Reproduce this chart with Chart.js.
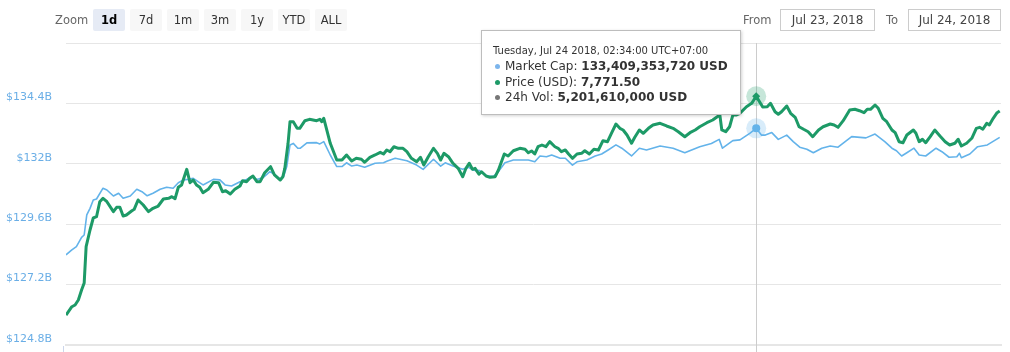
<!DOCTYPE html>
<html>
<head>
<meta charset="utf-8">
<script src="https://cdn.jsdelivr.net/npm/chart.js@4/dist/chart.umd.min.js"></script>
<style>
  html, body { margin:0; padding:0; background:#fff; overflow:hidden; }
  #wrap { position:relative; width:1010px; height:352px; font-family:"DejaVu Sans", sans-serif; }
  #c { position:absolute; left:0; top:0; }
  .lbl { position:absolute; font-size:11.5px; color:#666; line-height:16px; white-space:nowrap; }
  .btn { position:absolute; top:9px; width:32px; height:22px; line-height:22px; text-align:center; font-size:11.5px; color:#333; background:#f7f7f7; border-radius:2px; }
  .btn.sel { background:#e6ebf5; font-weight:bold; color:#000; }
  .date { position:absolute; top:9px; height:22px; box-sizing:border-box; border:1px solid #ccc; background:#fff; font-size:12px; color:#444; text-align:center; line-height:20px; }
  #tip { position:absolute; left:481px; top:30px; width:260px; height:85px; box-sizing:border-box; background:rgba(255,255,255,0.93); border:1px solid #bdbdbd; box-shadow:1px 1px 3px rgba(0,0,0,0.18); color:#333; }
  #tip .row { position:absolute; left:0; white-space:nowrap; line-height:16px; }
  #tip .dot { position:absolute; width:5px; height:5px; border-radius:50%; top:6px; left:13px; }
</style>
</head>
<body>
<div id="wrap">
  <canvas id="c" width="1010" height="352"></canvas>
  <div id="ui"></div>
  <div id="tip"></div>
</div>
<script>
// ---------- data ----------
// x = minutes since start of the 1-day window, y = value
const pricePoints = [
[0,7481.7],[9,7492.7],[14,7495.0],[19,7501.6],[24,7514.8],[28,7524.1],[31,7572.2],[37,7594.3],[42,7610.2],[47,7611.9],
[52,7631.8],[57,7636.3],[63,7631.8],[73,7618.6],[78,7624.4],[83,7624.4],[88,7612.9],[93,7614.2],[101,7619.5],[105,7621.7],
[111,7634.1],[119,7627.4],[127,7618.6],[134,7623.1],[142,7626.1],[150,7635.4],[158,7636.3],[163,7638.4],[168,7635.8],[173,7650.9],
[178,7653.9],[186,7674.7],[191,7657.0],[196,7660.5],[201,7653.9],[206,7650.9],[211,7643.7],[219,7648.2],[227,7657.5],[235,7657.0],
[241,7645.0],[246,7646.4],[253,7642.0],[260,7648.2],[268,7652.6],[272,7659.6],[278,7658.3],[283,7662.8],[288,7665.8],[294,7658.3],
[299,7658.3],[306,7670.2],[315,7678.2],[321,7667.2],[330,7660.5],[334,7664.9],[337,7676.0],[342,7709.2],[345,7737.8],[350,7737.8],
[356,7729.0],[360,7729.0],[368,7739.1],[375,7740.9],[386,7739.1],[391,7740.9],[394,7737.8],[397,7742.3],[407,7709.2],[417,7687.0],
[425,7687.0],[432,7693.7],[440,7685.7],[447,7689.3],[455,7688.0],[460,7684.0],[468,7690.6],[476,7693.7],[484,7697.2],[489,7695.0],
[494,7700.3],[499,7698.0],[505,7704.6],[512,7702.5],[519,7702.5],[525,7698.0],[532,7689.3],[540,7684.8],[546,7690.6],[551,7680.4],
[558,7691.4],[566,7702.5],[572,7695.9],[577,7687.0],[582,7695.9],[589,7691.4],[596,7682.7],[604,7676.0],[611,7664.9],[616,7676.0],
[621,7682.7],[626,7674.7],[630,7676.0],[636,7668.1],[640,7671.5],[647,7665.8],[653,7664.1],[661,7664.9],[666,7673.8],[675,7695.0],
[681,7692.3],[689,7699.3],[699,7702.5],[707,7701.2],[712,7696.7],[717,7699.0],[722,7695.0],[727,7704.6],[733,7706.9],[739,7704.6],
[745,7711.3],[753,7704.6],[758,7702.5],[763,7698.0],[769,7700.3],[774,7695.0],[780,7689.3],[787,7695.0],[794,7695.9],[799,7699.3],
[806,7695.0],[813,7701.2],[820,7700.3],[827,7712.6],[834,7711.3],[840,7722.4],[847,7734.7],[853,7729.0],[858,7726.8],[864,7720.1],
[871,7709.2],[876,7717.1],[883,7726.8],[889,7722.4],[897,7729.0],[904,7733.4],[915,7735.6],[925,7732.1],[935,7729.0],[943,7724.5],
[953,7717.9],[961,7723.2],[969,7726.8],[976,7731.1],[987,7736.4],[996,7740.0],[1003,7744.4],[1007,7746.6],[1010,7726.8],[1016,7724.5],
[1022,7731.1],[1027,7746.6],[1032,7746.6],[1038,7748.9],[1048,7757.6],[1056,7762.1],[1063,7771.5],[1073,7757.2],[1080,7757.6],[1085,7762.1],
[1092,7751.0],[1097,7747.6],[1102,7751.0],[1110,7758.6],[1116,7748.9],[1123,7743.6],[1129,7731.1],[1136,7727.7],[1143,7724.5],[1150,7717.9],
[1159,7726.8],[1166,7731.1],[1177,7734.7],[1183,7733.4],[1189,7730.3],[1197,7739.1],[1207,7753.3],[1215,7754.2],[1222,7752.3],[1229,7749.7],
[1234,7754.2],[1239,7754.2],[1246,7759.9],[1251,7755.5],[1258,7742.3],[1264,7737.8],[1272,7726.8],[1277,7723.2],[1283,7711.3],[1289,7709.9],
[1295,7720.1],[1305,7726.8],[1309,7722.4],[1314,7711.3],[1319,7714.5],[1324,7709.9],[1331,7717.9],[1338,7726.8],[1346,7718.8],[1354,7711.3],
[1361,7706.9],[1369,7709.2],[1374,7714.5],[1379,7705.6],[1387,7709.2],[1395,7715.8],[1402,7729.0],[1407,7730.3],[1412,7727.7],[1418,7735.6],
[1422,7733.4],[1428,7742.3],[1434,7749.7],[1438,7751.9]
];
// market cap in billions USD
const capPoints = [
[0,128.38],[9,128.58],[16,128.71],[24,129.08],[28,129.17],[32,129.97],[37,130.23],[42,130.56],[47,130.60],[57,131.03],
[63,130.96],[73,130.72],[81,130.83],[88,130.63],[99,130.72],[109,130.99],[117,130.89],[125,130.73],[134,130.83],[145,130.99],
[155,131.07],[165,131.03],[173,131.25],[181,131.36],[188,131.38],[196,131.42],[211,131.16],[227,131.38],[237,131.36],[245,131.16],
[255,131.12],[268,131.29],[278,131.38],[286,131.49],[294,131.38],[304,131.46],[314,131.69],[322,131.56],[330,131.38],[335,131.49],
[340,131.89],[345,132.75],[350,132.81],[357,132.62],[361,132.62],[371,132.83],[386,132.84],[391,132.79],[397,132.88],[407,132.35],
[417,131.89],[425,131.89],[432,132.04],[440,131.91],[448,131.95],[460,131.86],[476,132.02],[489,132.04],[495,132.11],[507,132.22],
[525,132.12],[540,131.95],[550,131.78],[566,132.18],[577,131.91],[584,132.04],[596,131.91],[611,131.78],[620,131.86],[627,131.75],
[637,131.73],[648,131.52],[658,131.49],[666,131.69],[676,132.04],[689,132.15],[699,132.15],[712,132.15],[722,132.08],[730,132.31],
[740,132.28],[748,132.35],[761,132.22],[769,132.22],[780,131.95],[787,132.08],[802,132.15],[815,132.31],[825,132.39],[835,132.55],
[847,132.75],[856,132.62],[871,132.31],[883,132.62],[894,132.55],[915,132.71],[935,132.62],[953,132.44],[976,132.68],[994,132.81],
[1006,132.97],[1011,132.62],[1027,132.92],[1038,132.95],[1053,133.21],[1063,133.409353720],[1071,133.14],[1077,133.14],[1087,133.24],[1097,132.97],
[1110,133.14],[1120,132.88],[1130,132.66],[1141,132.58],[1151,132.44],[1164,132.62],[1177,132.71],[1189,132.66],[1210,133.08],[1223,133.05],
[1232,133.03],[1246,133.18],[1261,132.88],[1272,132.62],[1279,132.52],[1287,132.31],[1295,132.44],[1306,132.62],[1314,132.35],[1324,132.31],
[1340,132.62],[1349,132.48],[1360,132.26],[1372,132.28],[1376,132.42],[1379,132.24],[1392,132.39],[1404,132.68],[1419,132.75],[1438,133.05]
];
const capTicks = [124.8, 127.2, 129.6, 132, 134.4, 136.8];
const capTickLabels = ['$124.8B', '$127.2B', '$129.6B', '$132B', '$134.4B', ''];
const zoomButtons = ['1d', '7d', '1m', '3m', '1y', 'YTD', 'ALL'];
const selectedZoom = '1d';
const dateFrom = 'Jul 23, 2018';
const dateTo = 'Jul 24, 2018';
const hoverTime = 1063;
const hoverHeader = 'Tuesday, Jul 24 2018, 02:34:00 UTC+07:00';
const hoverVolume = 5201610000;

const BLUE = '#63b3ea';
const GREEN = '#1d9a67';

// ---------- range selector / inputs ----------
const ui = document.getElementById('ui');
function add(html) { ui.insertAdjacentHTML('beforeend', html); }
add('<div class="lbl" style="left:55px;top:12px;">Zoom</div>');
zoomButtons.forEach((b, i) => {
  add('<div class="btn' + (b === selectedZoom ? ' sel' : '') + '" style="left:' + (93 + i * 37) + 'px">' + b + '</div>');
});
add('<div class="lbl" style="left:743px;top:12px;">From</div>');
add('<div class="date" style="left:780px;width:95px;">' + dateFrom + '</div>');
add('<div class="lbl" style="left:886px;top:12px;">To</div>');
add('<div class="date" style="left:908px;width:93px;">' + dateTo + '</div>');

// ---------- tooltip ----------
const capAtHover = capPoints.find(p => p[0] === hoverTime)[1];
const priceAtHover = pricePoints.find(p => p[0] === hoverTime)[1];
const fmt = (n, d) => n.toLocaleString('en-US', { minimumFractionDigits: d, maximumFractionDigits: d });
const tip = document.getElementById('tip');
tip.innerHTML =
  '<div class="row" style="top:12px;left:11px;font-size:10px;">' + hoverHeader + '</div>' +
  '<div class="row" style="top:27px;font-size:12px;"><span class="dot" style="background:#7cb5ec"></span><span style="margin-left:23px">Market Cap: <b>' + fmt(Math.round(capAtHover * 1e9), 0) + ' USD</b></span></div>' +
  '<div class="row" style="top:43px;font-size:12px;"><span class="dot" style="background:' + GREEN + '"></span><span style="margin-left:23px">Price (USD): <b>' + fmt(priceAtHover, 2) + '</b></span></div>' +
  '<div class="row" style="top:58px;font-size:12px;"><span class="dot" style="background:#777"></span><span style="margin-left:23px">24h Vol: <b>' + fmt(hoverVolume, 0) + ' USD</b></span></div>';

// ---------- chart ----------
const deco = {
  id: 'deco',
  beforeDatasetsDraw(chart) {
    const c = chart.ctx;
    const x = Math.round(chart.scales.x.getPixelForValue(hoverTime)) + 0.5;
    c.save();
    c.strokeStyle = '#cccccc';
    c.lineWidth = 1;
    c.beginPath();
    c.moveTo(x, chart.chartArea.top);
    c.lineTo(x, chart.height);
    c.stroke();
    c.restore();
  },
  afterDatasetsDraw(chart) {
    const c = chart.ctx;
    const pIdx = pricePoints.findIndex(p => p[0] === hoverTime);
    const cIdx = capPoints.findIndex(p => p[0] === hoverTime);
    const pe = chart.getDatasetMeta(0).data[pIdx];
    const ce = chart.getDatasetMeta(1).data[cIdx];
    c.save();
    c.fillStyle = 'rgba(29,154,103,0.25)';
    c.beginPath(); c.arc(pe.x, pe.y, 10, 0, Math.PI * 2); c.fill();
    c.fillStyle = 'rgba(99,179,234,0.25)';
    c.beginPath(); c.arc(ce.x, ce.y, 10, 0, Math.PI * 2); c.fill();
    c.fillStyle = GREEN;
    c.beginPath();
    c.moveTo(pe.x, pe.y - 4); c.lineTo(pe.x + 4, pe.y); c.lineTo(pe.x, pe.y + 4); c.lineTo(pe.x - 4, pe.y);
    c.closePath(); c.fill();
    c.fillStyle = BLUE;
    c.beginPath(); c.arc(ce.x, ce.y, 4, 0, Math.PI * 2); c.fill();
    c.restore();
  },
  afterDraw(chart) {
    const c = chart.ctx;
    c.save();
    c.strokeStyle = '#ccd6eb';
    c.lineWidth = 1;
    c.beginPath();
    c.moveTo(63.5, chart.chartArea.bottom + 1);
    c.lineTo(63.5, chart.height);
    c.stroke();
    c.restore();
  }
};

new Chart(document.getElementById('c'), {
  type: 'line',
  data: {
    datasets: [
      {
        label: 'Price (USD)',
        data: pricePoints.map(([x, y]) => ({ x, y })),
        yAxisID: 'yPrice',
        borderColor: GREEN,
        borderWidth: 3,
        pointRadius: 0,
        tension: 0,
        borderJoinStyle: 'round',
        order: 0
      },
      {
        label: 'Market Cap',
        data: capPoints.map(([x, y]) => ({ x, y })),
        yAxisID: 'yCap',
        borderColor: BLUE,
        borderWidth: 1.6,
        pointRadius: 0,
        tension: 0,
        borderJoinStyle: 'round',
        order: 1
      }
    ]
  },
  options: {
    responsive: false,
    animation: false,
    devicePixelRatio: 1,
    events: [],
    layout: { padding: { top: 43, right: 9, left: 0, bottom: 0 } },
    plugins: { legend: { display: false }, tooltip: { enabled: false } },
    scales: {
      x: {
        type: 'linear',
        min: 0,
        max: 1440,
        grid: { display: false },
        border: { display: true, color: '#e6e6e6', width: 2 },
        ticks: { display: false },
        afterFit(s) { s.height = 7; s.paddingLeft = 0; s.paddingRight = 0; }
      },
      yCap: {
        position: 'left',
        min: 124.8,
        max: 136.8,
        afterBuildTicks(s) { s.ticks = capTicks.map(v => ({ value: v })); },
        ticks: {
          callback: (v, i) => capTickLabels[i],
          color: '#6aaee6',
          font: { family: 'DejaVu Sans', size: 11 },
          padding: 14,
          labelOffset: -6,
          autoSkip: false
        },
        grid: { color: '#e6e6e6', drawTicks: false },
        border: { display: false },
        afterFit(s) { s.width = 66; s.paddingTop = 0; s.paddingBottom = 0; }
      },
      yPrice: {
        display: false,
        min: 7442,
        max: 7842
      }
    }
  },
  plugins: [deco]
});
</script>
</body>
</html>
